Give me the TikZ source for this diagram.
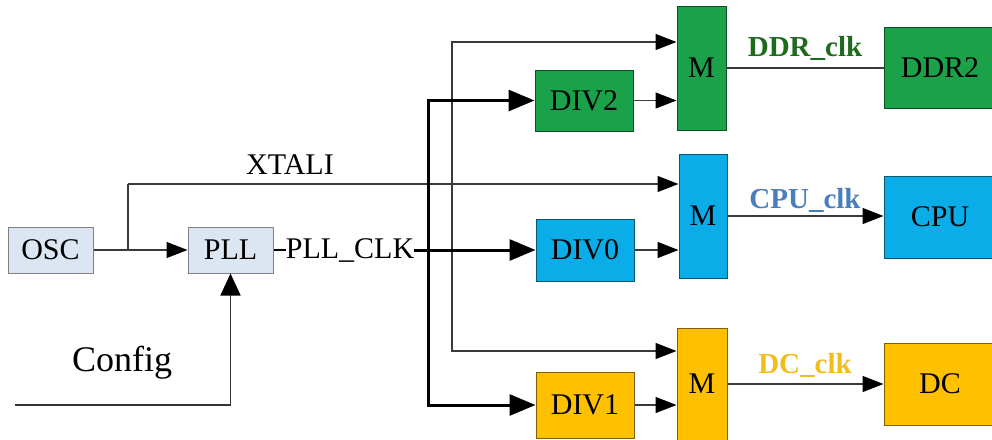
\documentclass[tikz,border=0pt]{standalone}
\usepackage{fontspec}
\setmainfont{Liberation Serif}
\usetikzlibrary{arrows.meta}
\definecolor{gfill}{HTML}{1AA14A}
\definecolor{bfill}{HTML}{0AADE8}
\definecolor{ofill}{HTML}{FFC000}
\definecolor{lfill}{HTML}{DCE6F2}
\definecolor{ddrc}{HTML}{1E6B1E}
\definecolor{cpuc}{HTML}{4A7EBB}
\definecolor{dcc}{HTML}{F2BC1E}
\definecolor{thinc}{HTML}{3A3A3A}
\tikzset{
  x=1pt, y=1pt,
  every node/.style={font=\fontsize{30}{34}\selectfont, inner sep=0pt},
  blk/.style={draw=#1!50!black, line width=1pt, minimum width=98pt, minimum height=62pt},
  gblk/.style={blk=gfill, fill=gfill},
  bblk/.style={blk=bfill, fill=bfill},
  oblk/.style={blk=ofill, fill=ofill},
  lblk/.style={draw=gray, fill=lfill, line width=1pt, minimum width=85pt, minimum height=46pt},
  thinw/.style={draw=thinc, line width=1.3pt},
  thinarr/.style={thinw, -{Triangle[length=21pt,width=16pt,black]}},
  cfgarr/.style={draw=black!80, line width=1.6pt, -{Triangle[length=22pt,width=20pt,black]}},
  thickw/.style={draw=black, line width=3pt},
  thickarr/.style={thickw, -{Triangle[length=26pt,width=21pt]}},
  clk/.style={font=\fontsize{29}{32}\selectfont\bfseries}
}
\begin{document}
\begin{tikzpicture}
\useasboundingbox (0,0) rectangle (992,-439);
\clip (0,0) rectangle (992,-439);
% blocks
\node[lblk] (OSC) at (50.5,-250) {OSC};
\node[lblk] (PLL) at (230.5,-250) {PLL};
\node[gblk, minimum height=61pt] (DIV2) at (584,-100.5) {DIV2};
\node[bblk] (DIV0) at (585,-250) {DIV0};
\node[oblk, minimum height=66pt] (DIV1) at (585,-405) {DIV1};
\node[gblk, minimum width=49pt, minimum height=124pt] (Mg) at (701.5,-68) {M};
\node[bblk, minimum width=48pt, minimum height=124pt] (Mb) at (703,-216) {M};
\node[oblk, minimum width=50pt, minimum height=112pt] (Mo) at (702,-384) {M};
\node[gblk, minimum width=112pt, minimum height=81pt] (DDR) at (940,-67.5) {DDR2};
\node[bblk, minimum width=112pt, minimum height=82pt] (CPU) at (940,-217) {CPU};
\node[oblk, minimum width=112pt, minimum height=82pt] (DC) at (940,-384) {DC};
% labels
\node (PCLK) at (350,-250) {PLL\_CLK};
\node (XT) at (290,-165) {XTALI};
\node[font=\fontsize{36}{40}\selectfont] (CFG) at (122,-363) {Config};
\node[clk, text=ddrc] (LDDR) at (805,-48) {DDR\_clk};
\node[clk, text=cpuc] (LCPU) at (805,-200) {CPU\_clk};
\node[clk, text=dcc] (LDC) at (805,-365) {DC\_clk};
% coordinates
\coordinate (xa) at (128,-184);
\coordinate (xb) at (452,-184);
\coordinate (bt) at (452,-42);
\coordinate (bb) at (452,-351);
\coordinate (tj) at (428,-250);
\coordinate (cfg) at (15,-405);
% thin connections
\draw[thinarr] (OSC) -- (PLL);
\draw[thinw] (xa |- OSC.east) -- (xa);
\draw[thinarr] (xa) -- (Mb.west |- xa);
\draw[thinarr] (xb) |- (Mg.west |- bt);
\draw[thinarr] (xb) |- (Mo.west |- bb);
\draw[cfgarr] (cfg) -| (PLL.south);
\draw[draw=black, line width=2.5pt] (PLL.east) -- (PCLK.west);
\draw[thinarr] (DIV2.east) -- (Mg.west |- DIV2.east);
\draw[thinarr] (DIV0.east) -- (Mb.west |- DIV0.east);
\draw[thinarr] (DIV1.east) -- (Mo.west |- DIV1.east);
\draw[thinw] (Mg.east) -- (DDR.west |- Mg.east);
\draw[thinarr] (Mb.east) -- (CPU.west |- Mb.east);
\draw[thinarr] (Mo.east) -- (DC.west |- Mo.east);
% thick connections
\draw[thickarr] (PCLK.east) -- (DIV0.west);
\draw[thickarr] (tj) |- (DIV2.west);
\draw[thickarr] (tj) |- (DIV1.west);
\end{tikzpicture}
\end{document}
